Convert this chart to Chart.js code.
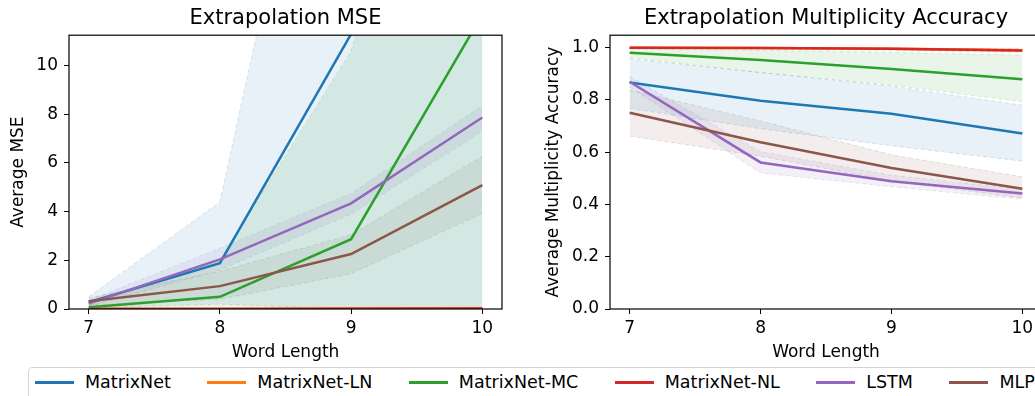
<!DOCTYPE html>
<html>
<head>
<meta charset="utf-8">
<script src="https://cdn.jsdelivr.net/npm/chart.js@4"></script>
<style>
    html, body { margin: 0; padding: 0; background: #fff; }
    body { width: 1035px; height: 396px; position: relative; overflow: hidden; font-family: "DejaVu Sans", sans-serif; }
    #mseChart { position: absolute; left: 0; top: 0; }
    #accChart { position: absolute; left: 520px; top: 0; }
    #legend {
        position: absolute; left: 28px; top: 367px; width: 1040px; height: 40px;
        border: 1px solid #d4d4d4; border-radius: 4px; box-sizing: border-box;
        display: flex; align-items: flex-start; padding: 4px 0 0 6px; background: #fff;
    }
    .item { display: flex; align-items: center; height: 20px; margin-right: 36.5px; font-size: 17.5px; color: #000; white-space: nowrap; }
    .swatch { width: 39px; height: 3px; margin-right: 11px; }
</style>
</head>
<body>
<canvas id="mseChart" width="520" height="364"></canvas>
<canvas id="accChart" width="530" height="364"></canvas>
<div id="legend"></div>
<script>
// data
const wordLengths = [7, 8, 9, 10];
const seriesNames = ["MatrixNet", "MatrixNet-LN", "MatrixNet-MC", "MatrixNet-NL", "LSTM", "MLP"];
const seriesColors = ["#1f77b4", "#ff7f0e", "#2ca02c", "#d62728", "#9467bd", "#8c564b"];

const xTicks = [7, 8, 9, 10];
const mseTicks = [0, 2, 4, 6, 8, 10];
const accTicks = [0, 0.2, 0.4, 0.6, 0.8, 1.0];

// Extrapolation MSE (mean, lower, upper) per series
const mseMean = [
    [0.28, 1.88, 11.3, 22.0],
    [0.01, 0.01, 0.02, 0.03],
    [0.07, 0.5, 2.87, 12.1],
    [0.0, 0.0, 0.01, 0.02],
    [0.22, 2.04, 4.34, 7.87],
    [0.32, 0.94, 2.26, 5.09]
];
const mseLower = [
    [0.05, 0.2, 0.0, 0.0],
    [0.0, 0.0, 0.0, 0.01],
    [0.0, 0.0, 0.0, 0.0],
    [0.0, 0.0, 0.0, 0.0],
    [0.1, 1.6, 3.9, 7.3],
    [0.15, 0.4, 1.45, 3.93]
];
const mseUpper = [
    [0.5, 4.4, 29.0, 45.0],
    [0.02, 0.02, 0.04, 0.06],
    [0.2, 2.0, 10.6, 30.0],
    [0.01, 0.01, 0.02, 0.04],
    [0.35, 2.5, 4.75, 8.35],
    [0.45, 1.55, 3.05, 6.28]
];

// Extrapolation Multiplicity Accuracy (mean, lower, upper) per series
const accMean = [
    [0.867, 0.797, 0.747, 0.672],
    [1.0, 0.999, 0.996, 0.990],
    [0.981, 0.953, 0.919, 0.879],
    [1.0, 0.999, 0.996, 0.989],
    [0.870, 0.561, 0.489, 0.442],
    [0.751, 0.638, 0.540, 0.460]
];
const accLower = [
    [0.768, 0.69, 0.625, 0.566],
    [0.998, 0.996, 0.99, 0.982],
    [0.962, 0.905, 0.857, 0.793],
    [0.999, 0.997, 0.992, 0.985],
    [0.85, 0.521, 0.468, 0.42],
    [0.662, 0.585, 0.49, 0.425]
];
const accUpper = [
    [0.957, 0.905, 0.853, 0.78],
    [1.0, 1.0, 0.999, 0.996],
    [0.995, 0.99, 0.982, 0.972],
    [1.0, 1.0, 0.999, 0.995],
    [0.89, 0.602, 0.512, 0.458],
    [0.838, 0.72, 0.59, 0.506]
];

Chart.defaults.font.family = "'DejaVu Sans', sans-serif";
Chart.defaults.color = "#000";
Chart.defaults.animation = false;

function rgba(hex, a) {
    const n = parseInt(hex.slice(1), 16);
    return `rgba(${(n >> 16) & 255}, ${(n >> 8) & 255}, ${n & 255}, ${a})`;
}

function points(arr) {
    return wordLengths.map((x, k) => ({ x: x, y: arr[k] }));
}

// band pairs first (upper fills down to the next dataset = lower), then the mean lines
function buildDatasets(mean, lower, upper) {
    const sets = [];
    seriesNames.forEach((name, i) => {
        const c = seriesColors[i];
        const band = {
            backgroundColor: rgba(c, 0.1),
            borderColor: rgba(c, 0.18),
            borderWidth: 1,
            borderDash: [4, 3],
            pointRadius: 0,
            order: 20
        };
        sets.push(Object.assign({ label: name + " upper", data: points(upper[i]), fill: "+1" }, band));
        sets.push(Object.assign({ label: name + " lower", data: points(lower[i]), fill: false }, band));
    });
    seriesNames.forEach((name, i) => {
        sets.push({
            label: name,
            data: points(mean[i]),
            borderColor: seriesColors[i],
            backgroundColor: seriesColors[i],
            borderWidth: 2.5,
            pointRadius: 0,
            fill: false,
            order: 10 - i
        });
    });
    return sets;
}

// full black frame round the plot area
const boxPlugin = {
    id: "box",
    afterDraw(chart) {
        const a = chart.chartArea;
        const ctx = chart.ctx;
        ctx.save();
        ctx.strokeStyle = "#000";
        ctx.lineWidth = 1.2;
        ctx.strokeRect(a.left, a.top, a.right - a.left, a.bottom - a.top);
        ctx.restore();
    }
};

function makeChart(id, opts) {
    return new Chart(document.getElementById(id), {
        type: "line",
        data: { datasets: buildDatasets(opts.mean, opts.lower, opts.upper) },
        plugins: [boxPlugin],
        options: {
            responsive: false,
            layout: { padding: opts.padding },
            plugins: {
                legend: { display: false },
                tooltip: { enabled: false },
                title: {
                    display: true,
                    text: opts.title,
                    fullSize: false,
                    font: { size: 21, weight: "normal" },
                    padding: { top: 6, bottom: 4 }
                }
            },
            scales: {
                x: {
                    type: "linear",
                    min: 6.85,
                    max: 10.15,
                    afterBuildTicks: s => { s.ticks = xTicks.map(v => ({ value: v })); },
                    afterFit: s => { s.height = 55; },
                    border: { display: false },
                    grid: { drawOnChartArea: false, drawTicks: true, tickLength: 5, color: "#000" },
                    ticks: { font: { size: 17 }, padding: 4, autoSkip: false, maxRotation: 0, callback: v => String(v) },
                    title: { display: true, text: "Word Length", font: { size: 17 }, padding: { top: 0, bottom: 1 } }
                },
                y: {
                    min: 0,
                    max: opts.yMax,
                    afterBuildTicks: s => { s.ticks = opts.yTicks.map(v => ({ value: v })); },
                    afterFit: s => { s.width = opts.yWidth; },
                    border: { display: false },
                    grid: { drawOnChartArea: false, drawTicks: true, tickLength: 5, color: "#000" },
                    ticks: { font: { size: 17 }, padding: 6, autoSkip: false, callback: opts.yFormat },
                    title: { display: true, text: opts.yTitle, font: { size: 17 }, padding: { top: opts.yTitlePad, bottom: 4 } }
                }
            }
        }
    });
}

makeChart("mseChart", {
    title: "Extrapolation MSE",
    yTitle: "Average MSE",
    mean: mseMean, lower: mseLower, upper: mseUpper,
    yMax: 11.25,
    yTicks: mseTicks,
    yFormat: v => String(v),
    yWidth: 69,
    yTitlePad: 8,
    padding: { left: 0, right: 18, top: 0, bottom: 0 }
});

makeChart("accChart", {
    title: "Extrapolation Multiplicity Accuracy",
    yTitle: "Average Multiplicity Accuracy",
    mean: accMean, lower: accLower, upper: accUpper,
    yMax: 1.048,
    yTicks: accTicks,
    yFormat: v => v.toFixed(1),
    yWidth: 70,
    yTitlePad: 3,
    padding: { left: 20, right: 8, top: 0, bottom: 0 }
});

// shared legend below both panels
const legend = document.getElementById("legend");
seriesNames.forEach((name, i) => {
    const item = document.createElement("div");
    item.className = "item";
    const sw = document.createElement("div");
    sw.className = "swatch";
    sw.style.background = seriesColors[i];
    item.appendChild(sw);
    item.appendChild(document.createTextNode(name));
    legend.appendChild(item);
});
</script>
</body>
</html>
